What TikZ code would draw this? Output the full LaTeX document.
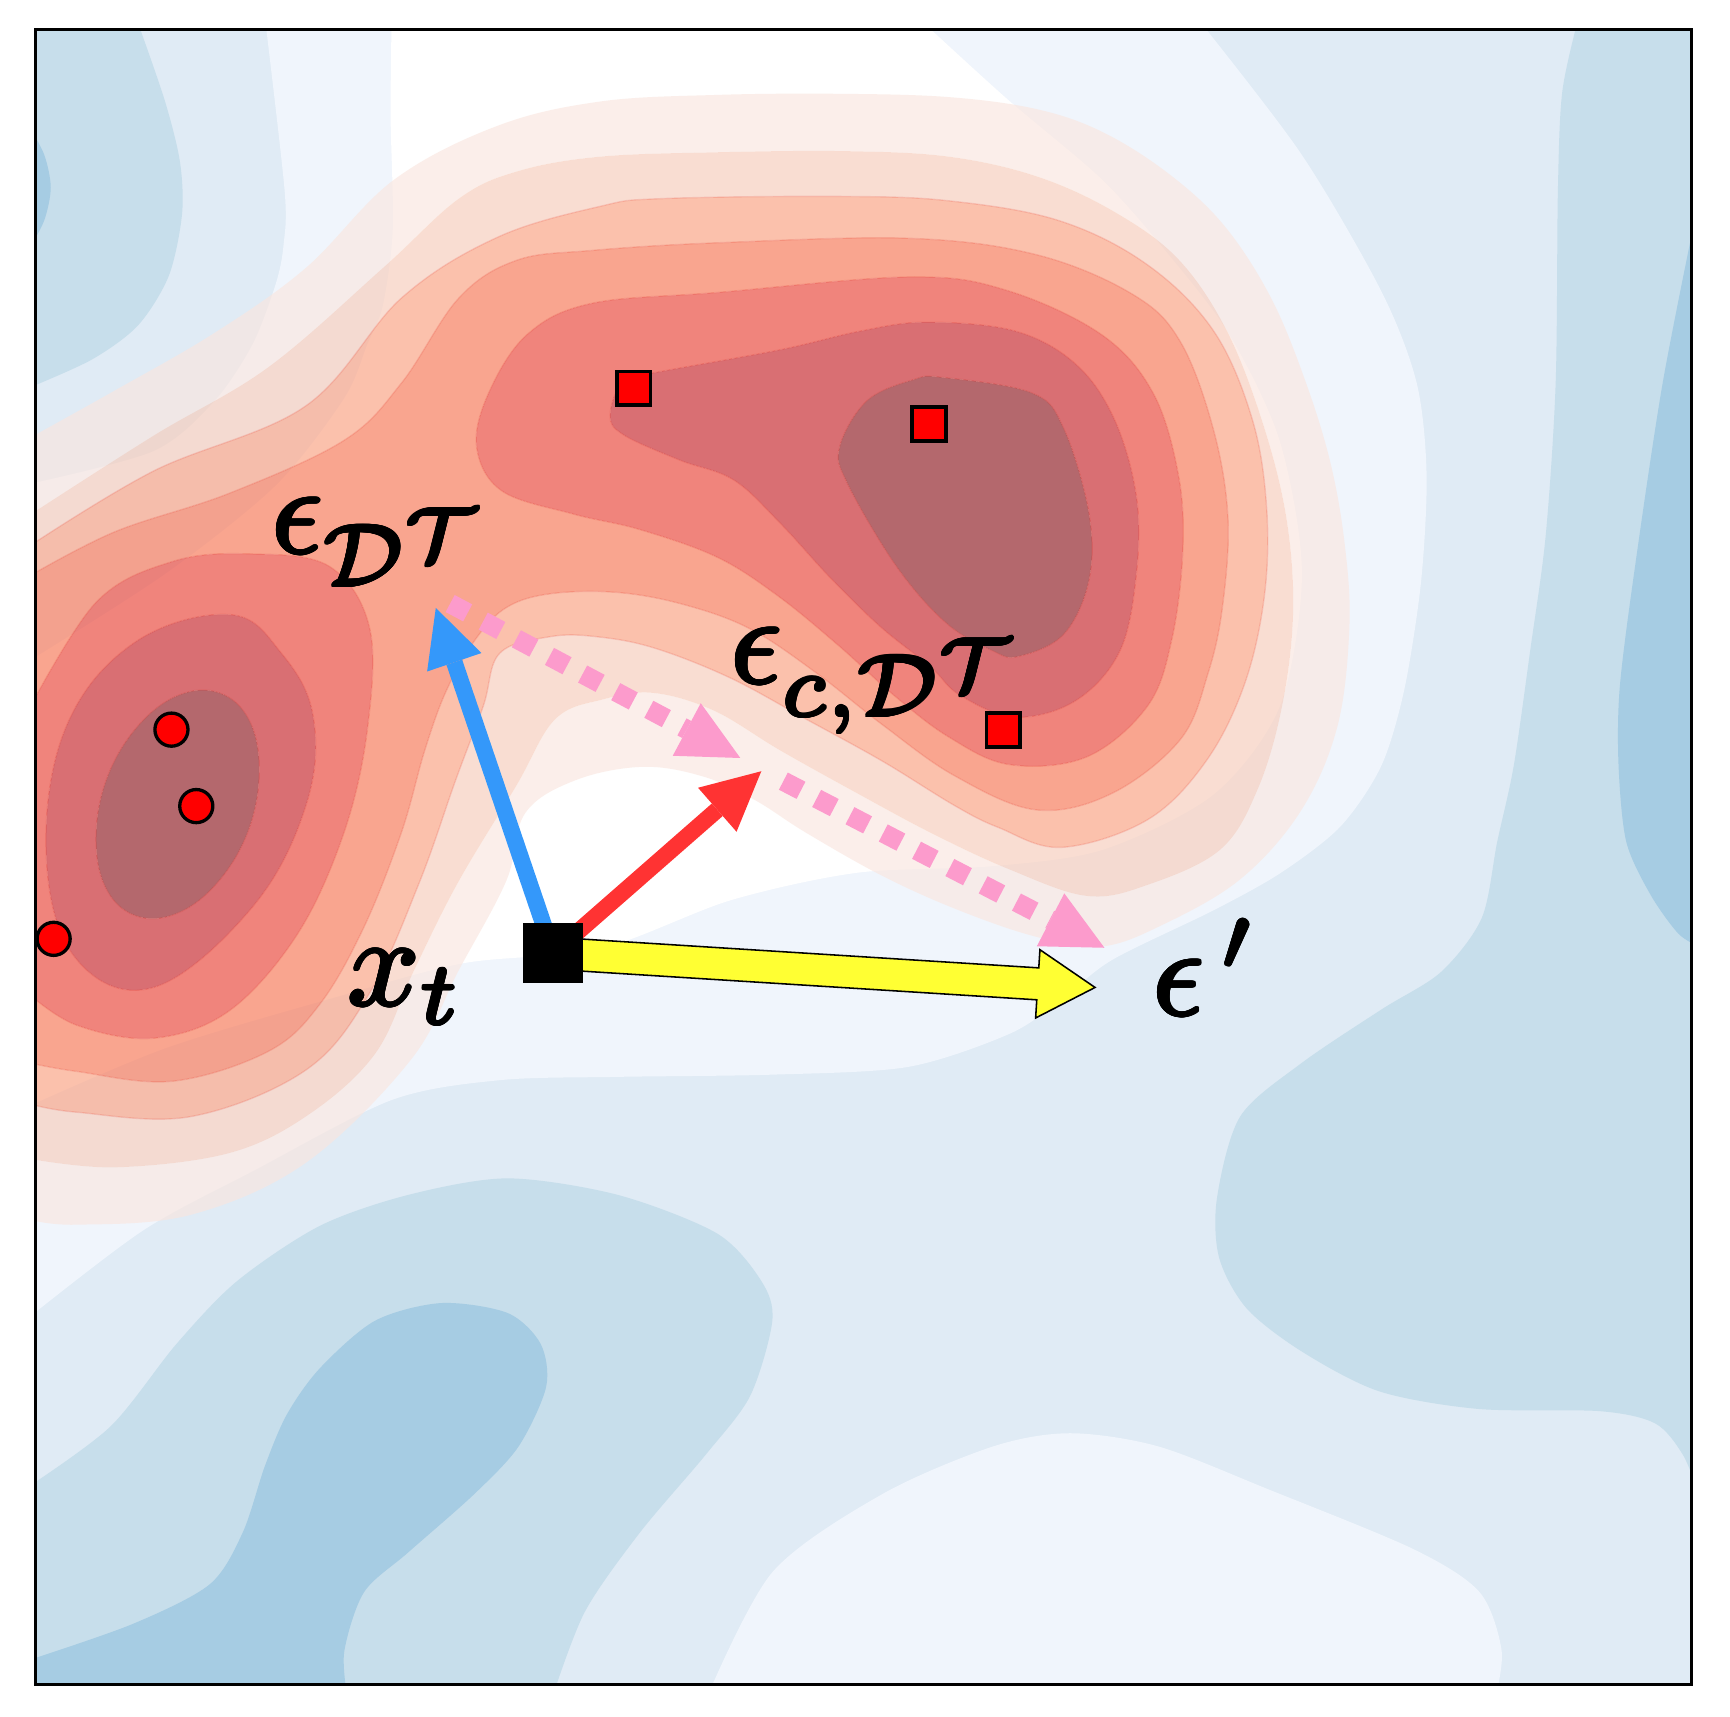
\documentclass[tikz,border=0pt]{standalone}
\usetikzlibrary{arrows.meta}
\usepackage{contour}
\contourlength{0.12pt}
\contournumber{16}
\DeclareMathSizes{10}{10}{7}{6}
\definecolor{bA}{RGB}{240,245,252}
\definecolor{bB}{RGB}{224,235,245}
\definecolor{bC}{RGB}{199,222,235}
\definecolor{bD}{RGB}{166,204,227}
\definecolor{rA}{RGB}{250,230,223}
\definecolor{rB}{RGB}{247,204,186}
\definecolor{rC}{RGB}{249,160,129}
\definecolor{rD}{RGB}{246,117,84}
\definecolor{rE}{RGB}{232,67,55}
\definecolor{rF}{RGB}{197,34,40}
\definecolor{rG}{RGB}{141,24,32}
\definecolor{arrblue}{RGB}{52,152,250}
\definecolor{arrred}{RGB}{255,51,51}
\definecolor{arrpink}{RGB}{252,155,204}
\definecolor{arryellow}{RGB}{255,255,51}
\definecolor{mkred}{RGB}{255,0,0}

\def\bandA{plot[smooth, tension=0.6] coordinates {(25,398) (104,354) (194,302) (277,243) (357,163) (451,114) (544,92) (650,86) (760,85) (860,88) (940,99) (1000,120) (1060,158) (1110,205) (1152,270) (1183,345) (1206,420) (1219,495) (1223,569) (1212,659) (1179,735) (1124,797) (1052,839) (997,858) (939,849) (869,825) (800,794) (731,755) (684,725) (638,704) (583,695) (522,707) (476,737) (459,798) (416,879) (372,961) (277,1054) (173,1101) (69,1110) (25,1105)} -- (-10,1105) -- (-10,398) -- cycle}
\def\bandB{plot[smooth, tension=0.6] coordinates {(25,468) (139,395) (243,333) (347,243) (416,180) (470,155) (544,142) (650,138) (767,137) (860,142) (940,160) (1010,192) (1068,235) (1112,300) (1145,385) (1166,470) (1172,555) (1162,640) (1140,715) (1106,770) (1040,802) (985,812) (915,788) (846,756) (777,719) (707,680) (647,644) (592,628) (546,634) (503,652) (468,712) (415,800) (375,880) (340,955) (280,1010) (208,1045) (104,1058) (25,1050)} -- (-10,1050) -- (-10,468) -- cycle}
\def\bandC{plot[smooth, tension=0.6] coordinates {(25,496) (139,427) (277,368) (364,270) (451,215) (544,187) (600,180) (760,178) (860,182) (960,200) (1040,240) (1100,300) (1135,380) (1148,460) (1146,540) (1128,620) (1093,690) (1040,743) (962,768) (905,750) (865,730) (800,690) (731,652) (661,614) (592,587) (540,577) (499,577) (453,592) (438,640) (413,707) (380,800) (335,900) (277,970) (173,1012) (69,1008) (25,1000)} -- (-10,1000) -- (-10,496) -- cycle}
\def\bandD{plot[smooth, tension=0.6] coordinates {(25,523) (104,482) (208,447) (312,399) (364,347) (416,270) (468,236) (536,227) (651,220) (825,216) (940,231) (1027,267) (1070,310) (1100,390) (1113,470) (1108,550) (1095,610) (1070,670) (1008,719) (939,734) (865,703) (800,657) (740,610) (680,570) (620,548) (560,537) (500,538) (460,550) (432,578) (405,625) (385,680) (364,754) (330,840) (290,910) (243,953) (156,980) (69,971) (25,963)} -- (-10,963) -- (-10,523) -- cycle}
\def\bandEl{plot[smooth, tension=0.6] coordinates {(25,645) (87,546) (156,509) (225,502) (298,513) (335,569) (333,661) (312,754) (270,846) (208,916) (139,941) (69,929) (25,900)} -- (-10,900) -- (-10,645) -- cycle}
\def\bandEr{plot[smooth cycle, tension=0.6] coordinates {(432,405) (443,356) (478,303) (536,275) (651,265) (825,251) (912,263) (998,303) (1045,356) (1068,430) (1072,500) (1062,580) (1040,640) (985,686) (915,693) (860,668) (810,630) (760,585) (705,540) (650,505) (580,480) (520,466) (455,445)}}
\def\bandFl{plot[smooth cycle, tension=0.65] coordinates {(208,557) (255,592) (284,650) (277,731) (228,823) (139,895) (69,869) (42,777) (59,661) (121,583)}}
\def\bandFr{plot[smooth cycle, tension=0.6] coordinates {(553,376) (565,345) (592,338) (707,317) (780,300) (840,292) (920,300) (975,330) (1010,380) (1030,450) (1030,520) (1015,590) (975,635) (920,650) (870,630) (843,604) (798,568) (752,523) (707,474) (665,435) (616,417) (565,394)}}
\def\bandGl{plot[smooth cycle, tension=0.65] coordinates {(199,628) (226,653) (235,699) (225,753) (197,800) (160,828) (123,830) (96,805) (87,759) (97,705) (125,658) (162,630)}}
\def\bandGr{plot[smooth cycle, tension=0.6] coordinates {(854,342) (935,356) (964,388) (987,465) (987,526) (964,575) (923,595) (900,590) (858,565) (813,514) (768,438) (761,405) (786,363) (828,344)}}

\tikzset{
  circmark/.style={circle, fill=mkred, draw=black, line width=0.3mm, minimum size=3mm, inner sep=0pt},
  sqmark/.style={rectangle, fill=mkred, draw=black, line width=0.34mm, minimum size=3.06mm, inner sep=0pt},
  lbl/.style={anchor=base west, inner sep=0pt, scale=3.25, font=\normalsize},
  bluearrow/.style={draw=arrblue, line width=1.5mm, -{Triangle[length=5.2mm,width=5.2mm,line width=0pt]}},
  redarrow/.style={draw=arrred, line width=1.5mm, -{Triangle[length=5.3mm,width=5.3mm,line width=0pt]}},
  pinkdots/.style={draw=arrpink, line width=1.75mm, dash pattern=on 1.8mm off 1.6mm, -{Triangle[length=5.5mm,width=5.4mm,line width=0pt]}},
  yellowarrow/.style={fill=arryellow, draw=black, line width=0.4pt, line join=miter},
  contourline/.style={line width=0.35pt, draw=rE, draw opacity=0.18}
}

\begin{document}
\begin{tikzpicture}[x=0.1mm,y=-0.1mm]
\useasboundingbox (0,0) rectangle (1568,1556);
\begin{scope}
\clip (32,27) rectangle (1533,1527);
% blue background levels
\fill[bB] (0,0) rectangle (1568,1556);
\fill[bA] plot[smooth] coordinates {(1084,15) (1179,139) (1252,264) (1284,347) (1293,430) (1288,527) (1273,624) (1252,694) (1215,749) (1161,791) (1100,825) (1008,870) (962,906) (915,937) (823,967) (700,974) (560,976) (453,979) (355,997) (230,1061) (130,1115) (25,1195)} -- (0,1195) -- (0,439) -- plot[smooth] coordinates {(25,439) (139,409) (194,364) (229,312) (250,257) (257,222) (258,173) (240,15)} -- cycle;
\fill[white] plot[smooth] coordinates {(355,15) (354,104) (356,208) (347,277) (333,312) (312,361) (250,440) (150,520) (25,600)} -- (0,600) -- (0,1003) -- plot[smooth] coordinates {(25,1003) (150,950) (300,905) (420,873) (544,860) (662,816) (777,791) (900,785) (1000,770) (1100,720) (1160,640) (1180,520) (1160,400) (1114,303) (1056,227) (998,162) (912,89) (831,15)} -- cycle;
\fill[bA] plot[smooth] coordinates {(640,1540) (700,1425) (800,1354) (900,1311) (970,1299) (1050,1311) (1150,1350) (1281,1404) (1341,1443) (1361,1496) (1355,1540)} -- cycle;
\fill[bC] plot[smooth] coordinates {(123,15) (149,90) (163,146) (165,194) (153,250) (125,295) (83,326) (25,352)} -- (0,352) -- (0,15) -- cycle;
\fill[bD] plot[smooth] coordinates {(25,112) (40,140) (46,170) (40,200) (25,228)} -- cycle;
\fill[bC] plot[smooth] coordinates {(1431,15) (1416,83) (1412,173) (1410,347) (1401,485) (1387,589) (1372,694) (1357,763) (1343,832) (1306,881) (1252,915) (1179,964) (1124,1012) (1103,1086) (1105,1140) (1130,1186) (1180,1225) (1250,1261) (1340,1277) (1450,1279) (1500,1290) (1525,1318) (1540,1354)} -- (1560,1354) -- (1560,15) -- cycle;
\fill[bD] plot[smooth] coordinates {(1540,180) (1507,347) (1481,520) (1468,624) (1467,694) (1474,763) (1496,811) (1521,846) (1540,858)} -- (1560,858) -- (1560,180) -- cycle;
\fill[bC] plot[smooth] coordinates {(25,1348) (100,1293) (160,1218) (215,1161) (290,1111) (370,1083) (460,1068) (560,1083) (650,1118) (690,1161) (700,1197) (680,1265) (640,1318) (580,1389) (530,1461) (500,1540)} -- (0,1540) -- cycle;
\fill[bD] plot[smooth] coordinates {(25,1505) (120,1472) (190,1436) (220,1389) (240,1329) (260,1282) (290,1240) (340,1197) (400,1181) (460,1190) (490,1218) (495,1257) (470,1311) (430,1354) (370,1407) (330,1443) (312,1497) (315,1540)} -- (0,1540) -- cycle;
% red density levels (semi-transparent rings)
\begin{scope}[fill opacity=0.65]
\fill[rA, even odd rule] \bandA \bandB;
\fill[rB, even odd rule] \bandB \bandC;
\fill[rC, even odd rule] \bandC \bandD;
\fill[rD, even odd rule] \bandD \bandEl \bandEr;
\fill[rE, even odd rule] \bandEl \bandEr \bandFl \bandFr;
\fill[rF, even odd rule] \bandFl \bandFr \bandGl \bandGr;
\fill[rG] \bandGl \bandGr;
\end{scope}
\draw[contourline] \bandC \bandD \bandEl \bandEr \bandFl \bandFr \bandGl \bandGr;
\end{scope}
\draw[line width=0.8pt] (32,27) rectangle (1533,1527);

% connectors
\coordinate (xtc) at (501.5,864);
\coordinate (btip) at (395,551);
\coordinate (rtip) at (690,699);
\coordinate (p1s) at (408,547);
\coordinate (p1e) at (671,687);
\coordinate (p2s) at (710,708);
\coordinate (p2e) at (1001,859);
\draw[pinkdots] (p1s) -- (p1e);
\draw[pinkdots] (p2s) -- (p2e);
\draw[bluearrow] (xtc) -- (btip);
\draw[redarrow] (xtc) -- (rtip);
\begin{scope}[shift={(xtc)}, rotate=-3.61]
\filldraw[yellowarrow] (0,-14.5) -- (440,-14.5) -- (440,-31) -- (492,0) -- (440,31) -- (440,14.5) -- (0,14.5) -- cycle;
\coordinate (ytip) at (492,0);
\end{scope}
\node[fill=black, minimum size=5.44mm, inner sep=0pt] (xt) at (xtc) {};

% samples
\node[circmark] (c1) at (155.4,661.3) {};
\node[circmark] (c2) at (177.9,730.6) {};
\node[circmark] (c3) at (48.6,850.9) {};
\node[sqmark] (s1) at (574.3,352) {};
\node[sqmark] (s2) at (842,384.3) {};
\node[sqmark] (s3) at (909.4,661.7) {};

% labels
\node[lbl] (l1) at (244,501) {\contour{black}{$\epsilon_{\mathcal{D}^{\mathcal{T}}}$}};
\node[lbl] (l2) at (660,619) {\contour{black}{$\epsilon_{c,\mathcal{D}^{\mathcal{T}}}$}};
\node[lbl] (l3) at (313,911) {\contour{black}{$x_t$}};
\node[lbl] (l4) at (1043,920) {\contour{black}{$\epsilon^{\,\prime}$}};
\end{tikzpicture}
\end{document}
